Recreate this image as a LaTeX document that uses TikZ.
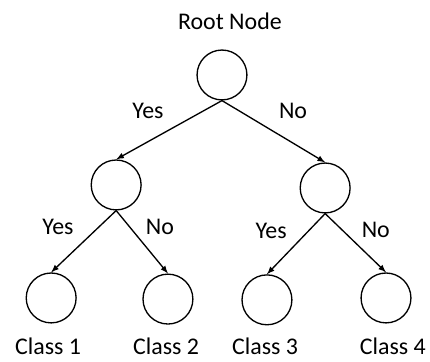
\documentclass[tikz,border=0pt]{standalone}
\usepackage{fontspec}
\setmainfont{Carlito}
\usepackage{tikz}
\usetikzlibrary{positioning}
\tikzset{every picture/.style={line width=1pt},leaf/.style={circle,draw,minimum size=1.32cm,inner sep=0pt}}

\begin{document}
\begin{tikzpicture}[every node/.style={font=\fontsize{18}{22}\selectfont,inner sep=0pt}]
\useasboundingbox (-5.874cm,1.984cm) rectangle (5.504cm,-7.594cm);
\node (root) at (0,0) [leaf] {};
\node (rootlab) at (0.21cm,1.43cm) {Root Node};

\node (l) at (-2.80cm,-2.91cm) [leaf] {};
\node (r) at (2.73cm,-2.99cm) [leaf] {};

\node (c1) at (-4.52cm,-5.90cm) [leaf] {};
\node (c2) at (-1.43cm,-5.93cm) [leaf] {};
\node (c3) at (1.19cm,-5.95cm) [leaf] {};
\node (c4) at (4.34cm,-5.90cm) [leaf] {};

\node (c1lab) at (-4.60cm,-7.18cm) {Class 1};
\node (c2lab) at (-1.48cm,-7.18cm) {Class 2};
\node (c3lab) at (1.14cm,-7.18cm) {Class 3};
\node (c4lab) at (4.52cm,-7.18cm) {Class 4};

\node (yes) at (-1.96cm,-0.95cm) {Yes};
\node (no) at (1.88cm,-0.95cm) {No};
\node (lyes) at (-4.34cm,-4.02cm) {Yes};
\node (lno) at (-1.64cm,-4.02cm) {No};
\node (ryes) at (1.30cm,-4.13cm) {Yes};
\node (rno) at (4.07cm,-4.10cm) {No};

\draw [-latex] (root.south) -- (l.north);
\draw [-latex] (root.south) -- (r.north);
\draw [-latex] (l.south) -- (c1.north);
\draw [-latex] (l.south) -- (c2.north);
\draw [-latex] (r.south) -- (c3.north);
\draw [-latex] (r.south) -- (c4.north);
\end{tikzpicture}
\end{document}
